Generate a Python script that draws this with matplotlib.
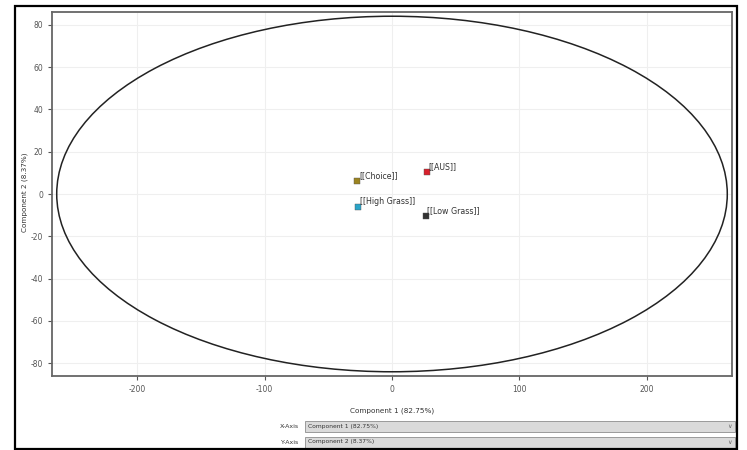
import matplotlib
matplotlib.use("Agg")
import matplotlib.pyplot as plt
from matplotlib.patches import Ellipse, Rectangle

plt.rcParams["font.family"] = ["DejaVu Sans"]
plt.rcParams["axes.unicode_minus"] = False

# PCA scores (component 1, component 2)
groups = ["[[AUS]]", "[[Choice]]", "[[High Grass]]", "[[Low Grass]]"]
comp1 = [27.2, -27.2, -26.4, 26.4]
comp2 = [10.5, 6.1, -6.0, -10.4]
colors = ["#d8202c", "#9c8420", "#2aa4c8", "#333333"]

# 95% confidence ellipse (semi-axes)
ellipse_a = 263.0
ellipse_b = 84.0

x_ticks = [-200, -100, 0, 100, 200]
y_ticks = [-80, -60, -40, -20, 0, 20, 40, 60, 80]
x_label = "Component 1 (82.75%)"
y_label = "Component 2 (8.37%)"

W, H = 747, 450
fig = plt.figure(figsize=(W / 100, H / 100), dpi=100)
fig.patch.set_facecolor("white")

def fx(px):
    return px / W

def fy(py):
    return 1 - py / H

ax = fig.add_axes([fx(52), fy(376), fx(732) - fx(52), fy(12) - fy(376)])
ax.set_xlim(-266.7, 266.7)
ax.set_ylim(-86, 86)
ax.set_xticks(x_ticks)
ax.set_yticks(y_ticks)
ax.grid(True, color="#efefef", linewidth=0.8)
ax.set_axisbelow(True)
for s in ax.spines.values():
    s.set_color("#666666")
    s.set_linewidth(1.3)
ax.tick_params(labelsize=5.5, colors="#555555", length=3, width=0.8)

ax.add_patch(Ellipse((0, 0), 2 * ellipse_a, 2 * ellipse_b, fill=False,
                     edgecolor="#222222", linewidth=1.1))

for g, x, y, c in zip(groups, comp1, comp2, colors):
    ax.scatter([x], [y], marker="s", s=22, color=c, edgecolors="#555555",
               linewidths=0.3, zorder=3)
    ax.annotate(g, (x, y), xytext=(1.2, 0.8), textcoords="offset points",
                fontsize=5.7, color="#333333", ha="left", va="bottom")

fig.text(fx(392), fy(411), x_label, fontsize=5.2, color="#333333",
         ha="center", va="center")
fig.text(fx(25), fy(192), y_label, fontsize=5.2, color="#333333",
         ha="center", va="center", rotation=90)

# axis selector boxes
for label, text, ycen in [("X-Axis", x_label, 426.5), ("Y-Axis", y_label, 442)]:
    fig.text(fx(299), fy(ycen), label, fontsize=4.5, color="#333333",
             ha="right", va="center")
    fig.patches.append(Rectangle((fx(305), fy(ycen + 5.5)), fx(735) - fx(305),
                                 fy(ycen - 5.5) - fy(ycen + 5.5),
                                 transform=fig.transFigure, facecolor="#dadada",
                                 edgecolor="#9a9a9a", linewidth=0.7))
    fig.text(fx(308), fy(ycen), text, fontsize=4.3, color="#333333",
             ha="left", va="center")
    fig.text(fx(729), fy(ycen), "\u2228", fontsize=4.5, color="#666666",
             ha="center", va="center")

# outer frame
fig.patches.append(Rectangle((fx(15), fy(449)), fx(737) - fx(15), fy(6) - fy(449),
                             transform=fig.transFigure, fill=False,
                             edgecolor="black", linewidth=1.6))

fig.savefig("out.png", dpi=100)
